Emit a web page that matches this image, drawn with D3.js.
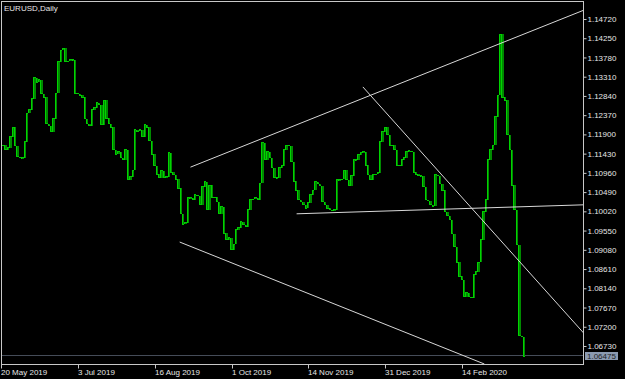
<!DOCTYPE html>
<html>
<head>
<meta charset="utf-8">
<script src="https://cdn.jsdelivr.net/npm/d3@7"></script>
<style>
  body { margin: 0; background: #000; }
  svg { display: block; }
</style>
</head>
<body>
<div id="chart"></div>
<script>
var W = 625, H = 379;

// daily closes, 20 May 2019 .. 20 Mar 2020
var closes = [
  1.1164, 1.1152, 1.1157, 1.1184, 1.1208, 1.1162, 1.1135, 1.1133, 1.1133, 1.1172,
  1.1242, 1.1250, 1.1277, 1.1328, 1.1318, 1.1323, 1.1289, 1.1281, 1.1216, 1.1211,
  1.1196, 1.1228, 1.1291, 1.1367, 1.1396, 1.1401, 1.1369, 1.1369, 1.1372, 1.1372,
  1.1291, 1.1289, 1.1286, 1.1281, 1.1228, 1.1216, 1.1211, 1.1250, 1.1255, 1.1267,
  1.1262, 1.1213, 1.1274, 1.1230, 1.1216, 1.1208, 1.1152, 1.1142, 1.1147, 1.1133,
  1.1128, 1.1152, 1.1079, 1.1086, 1.1103, 1.1201, 1.1198, 1.1201, 1.1184, 1.1213,
  1.1208, 1.1174, 1.1142, 1.1113, 1.1093, 1.1084, 1.1101, 1.1084, 1.1086, 1.1145,
  1.1098, 1.1091, 1.1081, 1.1059, 1.0996, 1.0971, 1.0974, 1.1035, 1.1035, 1.1030,
  1.1042, 1.1040, 1.1018, 1.1062, 1.1074, 1.1006, 1.1066, 1.1035, 1.1037, 1.1025,
  1.0996, 1.1013, 1.0949, 1.0932, 1.0937, 1.0908, 1.0922, 1.0957, 1.0962, 1.0976,
  1.0969, 1.0964, 1.1006, 1.1032, 1.1032, 1.1035, 1.1030, 1.1071, 1.1169, 1.1128,
  1.1147, 1.1133, 1.1108, 1.1084, 1.1084, 1.1108, 1.1113, 1.1152, 1.1164, 1.1162,
  1.1123, 1.1076, 1.1054, 1.1030, 1.1025, 1.1018, 1.1010, 1.1023, 1.1042, 1.1054,
  1.1074, 1.1069, 1.1064, 1.1025, 1.1018, 1.1010, 1.1006, 1.1003, 1.1006, 1.1079,
  1.1079, 1.1081, 1.1103, 1.1079, 1.1064, 1.1089, 1.1128, 1.1128, 1.1140, 1.1145,
  1.1147, 1.1115, 1.1091, 1.1079, 1.1091, 1.1093, 1.1096, 1.1172, 1.1196, 1.1208,
  1.1189, 1.1164, 1.1164, 1.1152, 1.1115, 1.1113, 1.1128, 1.1133, 1.1147, 1.1150,
  1.1147, 1.1098, 1.1093, 1.1089, 1.1089, 1.1062, 1.1030, 1.1028, 1.1018, 1.1015,
  1.1091, 1.1089, 1.1069, 1.1054, 1.1001, 1.0991, 1.0981, 1.0947, 1.0915, 1.0878,
  1.0844, 1.0835, 1.0793, 1.0803, 1.0793, 1.0791, 1.0847, 1.0854, 1.0878, 1.0932,
  1.1001, 1.1030, 1.1128, 1.1152, 1.1164, 1.1233, 1.1286, 1.1435, 1.1281, 1.1274,
  1.1189, 1.1152, 1.1066, 1.1006, 1.0920, 1.0698, 1.0695, 1.06475
];

var dateLabels = ["20 May 2019", "3 Jul 2019", "16 Aug 2019", "1 Oct 2019",
                  "14 Nov 2019", "31 Dec 2019", "14 Feb 2020"];
var dateIdx = [0, 32, 64, 96, 128, 160, 192];

var priceTicks = [1.06730, 1.07200, 1.07670, 1.08140, 1.08610, 1.09080, 1.09550,
                  1.10020, 1.10490, 1.10960, 1.11430, 1.11900, 1.12370, 1.12840,
                  1.13310, 1.13780, 1.14250, 1.14720];

// hand drawn trend lines: [bar index, price] at each end
var trendA = [[78.5, 1.1110], [242.5, 1.1494]];
var trendB = [[74.0, 1.0927], [200.9, 1.0629]];
var trendC = [[122.7, 1.0996], [242.5, 1.1018]];
var trendD = [[150.3, 1.1306], [242.5, 1.0703]];

var bid = 1.06475;

var plotL = 1, plotR = 583, plotT = 1, plotB = 364;

var x = d3.scaleLinear().domain([0, 192]).range([2, 463]);
var y = d3.scaleLinear().domain([1.06290, 1.15135]).range([plotB, 2]);
var barW = x(1) - x(0);

var svg = d3.select("#chart").append("svg")
    .attr("width", W)
    .attr("height", H)
    .style("background", "#000")
    .style("font-family", "'Liberation Sans', Arial, sans-serif");

var plot = svg.append("g");

plot.append("clipPath").attr("id", "clip")
  .append("rect")
    .attr("x", plotL + 1).attr("y", plotT + 1)
    .attr("width", plotR - plotL - 1).attr("height", plotB - plotT - 1);

// bid line
plot.append("line")
    .attr("x1", plotL).attr("x2", plotR)
    .attr("y1", Math.round(y(bid)) - 0.5).attr("y2", Math.round(y(bid)) - 0.5)
    .attr("stroke", "#454c58")
    .attr("stroke-width", 1);

// bars: body from previous close to close
var bars = plot.append("g").attr("clip-path", "url(#clip)");
closes.forEach(function(c, i) {
  var o = i ? closes[i - 1] : c;
  var top = Math.min(y(o), y(c)), h = Math.max(1, Math.abs(y(o) - y(c)));
  bars.append("rect")
      .attr("x", x(i))
      .attr("y", top)
      .attr("width", barW)
      .attr("height", h)
      .attr("fill", "#008a00")
      .attr("shape-rendering", "crispEdges");
  bars.append("rect")
      .attr("x", x(i))
      .attr("y", top)
      .attr("width", 1)
      .attr("height", h)
      .attr("fill", "#00d400")
      .attr("shape-rendering", "crispEdges");
  // open / close ticks
  bars.append("rect")
      .attr("x", x(i)).attr("y", y(c) - 0.5)
      .attr("width", barW).attr("height", 1)
      .attr("fill", "#00c800")
      .attr("shape-rendering", "crispEdges");
});

// trend lines
var tl = d3.line().x(function(d) { return x(d[0]); }).y(function(d) { return y(d[1]); });
[trendA, trendB, trendC, trendD].forEach(function(t) {
  plot.append("path")
      .attr("clip-path", "url(#clip)")
      .attr("d", tl(t))
      .attr("fill", "none")
      .attr("stroke", "#d8d8d8")
      .attr("stroke-width", 1);
});

// frame
svg.append("rect")
    .attr("x", plotL + 0.5).attr("y", plotT + 0.5)
    .attr("width", plotR - plotL).attr("height", plotB - plotT)
    .attr("fill", "none")
    .attr("stroke", "#c8c8c8")
    .attr("stroke-width", 1)
    .attr("shape-rendering", "crispEdges");

// right price axis
var yAxis = d3.axisRight(y)
    .tickValues(priceTicks)
    .tickFormat(d3.format(".5f"))
    .tickSize(3)
    .tickPadding(1);
var ya = svg.append("g")
    .attr("transform", "translate(" + (plotR + 0.5) + ",0)")
    .call(yAxis);
ya.select(".domain").remove();
ya.selectAll("line").attr("stroke", "#c8c8c8");
ya.selectAll("text")
    .attr("fill", "#e6e6e6")
    .style("font-size", "8px")
    .style("font-family", "'Liberation Sans', Arial, sans-serif");

// bid label
var bidG = svg.append("g").attr("transform", "translate(585," + Math.round(y(bid)) + ")");
bidG.append("rect")
    .attr("x", 0).attr("y", -4)
    .attr("width", 33).attr("height", 8)
    .attr("fill", "#8b9ab0");
bidG.append("text")
    .attr("x", 2).attr("y", 3)
    .attr("fill", "#1c1f24")
    .style("font-size", "8px")
    .text(d3.format(".5f")(bid));

// bottom date axis
var xa = svg.append("g").attr("transform", "translate(0," + (plotB + 0.5) + ")");
dateIdx.forEach(function(d, k) {
  var px = Math.round(x(d)) - 0.5;
  xa.append("line")
      .attr("x1", px).attr("x2", px)
      .attr("y1", 0).attr("y2", 4)
      .attr("stroke", "#c8c8c8");
  xa.append("text")
      .attr("x", Math.round(x(d)) - 1)
      .attr("y", 10.5)
      .attr("fill", "#e6e6e6")
      .style("font-size", "8px")
      .text(dateLabels[k]);
});

// title
svg.append("text")
    .attr("x", 4).attr("y", 11)
    .attr("fill", "#e6e6e6")
    .style("font-size", "8px")
    .text("EURUSD,Daily");
</script>
</body>
</html>
